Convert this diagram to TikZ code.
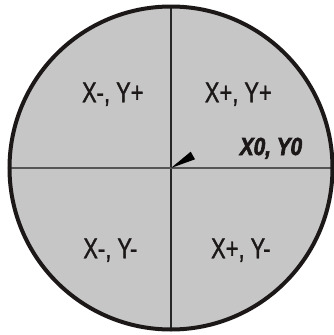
\documentclass[tikz,border=0pt]{standalone}
\usepackage{fontspec}
\setmainfont{Liberation Sans}
\newfontfamily\quadfont[FakeStretch=0.76,FakeBold=1.2]{Liberation Sans}
\newfontfamily\originfont[FakeStretch=0.84,FakeBold=2.5]{Liberation Sans Bold Italic}
\definecolor{discgray}{RGB}{198,198,198}
\definecolor{rimblack}{RGB}{28,24,24}
\definecolor{axisgray}{RGB}{85,85,85}
\begin{document}
\begin{tikzpicture}[x=1pt,y=-1pt,
  quadlabel/.style={inner sep=0pt,anchor=base,font=\quadfont\fontsize{28.8}{30}\selectfont,text=rimblack},
  originlabel/.style={inner sep=0pt,anchor=base,font=\originfont\fontsize{24.7}{26}\selectfont,text=rimblack},
  axis/.style={draw=axisgray,line width=1.2pt}]
\useasboundingbox (0,0) rectangle (333,335);
\coordinate (c) at (171,168);
\fill[discgray] (c) circle[radius=161.5];
\coordinate (top) at (171,6.5);
\coordinate (bot) at (171,329.5);
\coordinate (left) at (9.5,168);
\coordinate (right) at (332.5,168);
\draw[axis,draw=black!85] (top) -- (bot);
\draw[axis] (left) -- (right);
\draw[rimblack,line width=4pt] (c) circle[radius=161.5];
\coordinate (t1) at (190.7,151.7);
\coordinate (t2) at (195,159.3);
\fill[black] (c) -- (t1) -- (t2) -- cycle;
\node[quadlabel] (q2) at (112.8,102.3) {X-, Y+};
\node[quadlabel] (q1) at (238.3,102.3) {X+, Y+};
\node[quadlabel] (q3) at (110.3,258.3) {X-, Y-};
\node[quadlabel] (q4) at (240.8,258.3) {X+, Y-};
\node[originlabel] (o) at (271,155) {X0, Y0};
\end{tikzpicture}
\end{document}
